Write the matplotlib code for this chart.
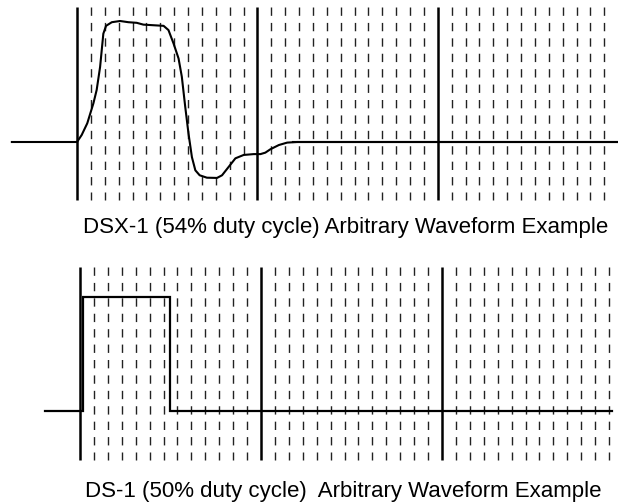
import matplotlib
matplotlib.use("Agg")
import matplotlib.pyplot as plt

# DSX-1 waveform (time in grid divisions, amplitude normalised to the peak)
dsx_t = [-0.361, 0.0, 0.026, 0.057, 0.091, 0.109, 0.128, 0.146, 0.161, 0.193,
         0.239, 0.285, 0.331, 0.368, 0.424, 0.48, 0.507, 0.535, 0.563, 0.581,
         0.6, 0.618, 0.637, 0.656, 0.68, 0.72, 0.776, 0.804, 0.841, 0.878,
         0.924, 0.98, 1.017, 1.044, 1.072, 1.119, 1.165, 1.22, 3.0]
dsx_v = [0.0, 0.0, 0.058, 0.155, 0.32, 0.43, 0.62, 0.895, 0.96, 0.99,
         1.0, 0.99, 0.985, 0.97, 0.965, 0.96, 0.925, 0.815, 0.69, 0.54,
         0.29, 0.07, -0.125, -0.234, -0.275, -0.295, -0.297, -0.275, -0.205, -0.135,
         -0.107, -0.1, -0.1, -0.088, -0.06, -0.025, -0.005, 0.0, 0.0]

# DS-1 square pulse
ds_t = [-0.193, 0.015, 0.015, 0.499, 0.499, 2.937]
ds_v = [0.0, 0.0, 1.0, 1.0, 0.0, 0.0]

titles = ["DSX-1 (54% duty cycle) Arbitrary Waveform Example",
          "DS-1 (50% duty cycle)  Arbitrary Waveform Example"]

W, H = 618, 503
fig = plt.figure(figsize=(W / 100, H / 100), dpi=100)


def panel(box, x0, dx, y0, dy, grid_top, grid_bot):
    # box: pixel rectangle of the axes, x0/y0: pixel of data origin,
    # dx/dy: pixels per unit
    l, t, r, b = box
    ax = fig.add_axes([l / W, 1 - b / H, (r - l) / W, (b - t) / H])
    ax.set_xlim((l - x0) / dx, (r - x0) / dx)
    ax.set_ylim((y0 - b) / dy, (y0 - t) / dy)
    ax.axis("off")
    yt = (y0 - grid_top) / dy
    yb = (y0 - grid_bot) / dy
    for div in range(3):
        ax.plot([div, div], [yt, yb], color="black", lw=1.8, solid_capstyle="butt")
        for k in range(1, 13):
            x = div + k / 13
            ax.plot([x, x], [yt, yb], color="#222222", lw=1.0,
                    linestyle=(0, (6.0, 5.1)), dash_capstyle="butt")
    return ax


ax1 = panel((0, 0, 618, 215), 77, 180.4, 142, 121, 7, 200)
ax1.plot(dsx_t, dsx_v, color="black", lw=1.5, solid_joinstyle="round")
ax1.plot([1.2, 3.1], [0, 0], color="black", lw=1.5)

ax2 = panel((0, 255, 618, 475), 80, 181, 410.7, 113.4, 267, 460)
ax2.plot(ds_t, ds_v, color="black", lw=1.6, solid_joinstyle="miter")

fig.text(83 / W, 1 - 232.5 / H, titles[0], ha="left", va="baseline",
         fontsize=16, family="Liberation Sans")
fig.text(85 / W, 1 - 497 / H, titles[1], ha="left", va="baseline",
         fontsize=16, family="Liberation Sans")

fig.savefig("out.png", dpi=100)
